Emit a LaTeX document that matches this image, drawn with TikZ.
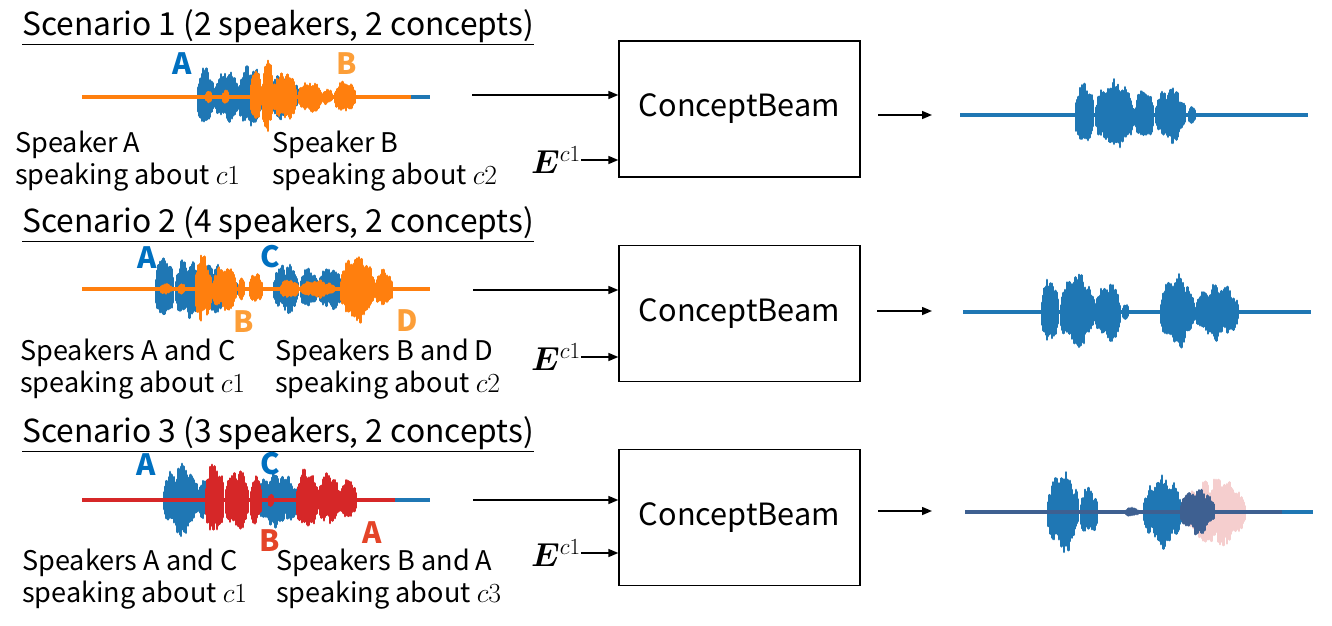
\documentclass[tikz,border=0pt]{standalone}
\usepackage{fontspec}
\usepackage{bm}
\usetikzlibrary{arrows.meta,positioning}
\newfontfamily\uifont{Noto Sans CJK JP}
\definecolor{wblue}{RGB}{31,119,180}
\definecolor{worange}{RGB}{255,127,14}
\definecolor{wred}{RGB}{214,39,40}
\definecolor{wdark}{RGB}{62,96,145}
\definecolor{wpink}{RGB}{245,206,206}
\definecolor{lblue}{RGB}{0,112,192}
\definecolor{lorange}{RGB}{252,158,56}
\definecolor{lred}{RGB}{228,68,40}
\tikzset{
  >={Triangle[length=7.5pt,width=6pt]},
  title/.style={anchor=base west,inner sep=0pt,font=\uifont\fontsize{23.8}{28}\selectfont},
  spk/.style={anchor=north west,inner sep=0pt,align=left,font=\uifont\fontsize{20.3}{24}\selectfont},
  who/.style={text=#1,inner sep=0pt,font=\uifont\bfseries\fontsize{22}{26}\selectfont},
  cbox/.style={draw,line width=1pt,minimum width=180.75pt,minimum height=102pt,
    font=\uifont\fontsize{23}{28}\selectfont},
  emb/.style={anchor=east,inner sep=0pt,font=\fontsize{26}{30}\selectfont},
  feed/.style={->,line width=1.1pt},
  axis/.style={line width=3.2pt,draw=#1},
}
% one burst of a waveform: colour, from, to, middle, height
\newcommand\burst[5]{%
  \pgfmathtruncatemacro\nb{(#3-#2)/1.2}
  \foreach \i in {0,...,\nb}{
    \pgfmathsetmacro\xb{#2+1.2*\i}
    \pgfmathsetmacro\eb{1.12*#5*sqrt(abs(sin(180*\i/\nb)))}
    \pgfmathsetmacro\ub{\eb*(0.4+0.3*abs(sin(17*\i))+0.3*rnd)}
    \pgfmathsetmacro\db{\eb*(0.4+0.3*abs(cos(11*\i))+0.3*rnd)}
    \draw[#1,line width=1.9pt,line cap=round] (\xb,#4-\ub) -- (\xb,#4+\db);
  }}

\begin{document}
\begin{tikzpicture}[x=0.75pt,y=-0.75pt]
  \useasboundingbox (0,0) rectangle (1332,625);
  \pgfmathsetseed{11}
  % scenario 1
  \node[title] (t1) at (22,35) {\underline{Scenario 1 (2 speakers, 2 concepts)}};
  \draw[axis=wblue] (82,97) -- (430,97);
  \burst{wblue}{197}{214}{97}{30} \burst{wblue}{214}{240}{97}{26} \burst{wblue}{238}{262}{97}{32}
  \burst{wblue}{262}{292}{97}{22} \burst{wblue}{288}{300}{97}{12}
  \draw[axis=worange] (82,97) -- (411,97);
  \burst{worange}{205}{213}{97}{5} \burst{worange}{222}{230}{97}{6}
  \burst{worange}{250}{262}{97}{26} \burst{worange}{262}{273}{97}{38} \burst{worange}{272}{298}{97}{24}
  \burst{worange}{298}{322}{97}{16} \burst{worange}{322}{333}{97}{7} \burst{worange}{334}{356}{97}{15}
  \node[who=lblue] (a1) at (182,64) {A};
  \node[who=lorange] (b1) at (347,64) {B};
  \node[spk] (s1a) at (15,131) {Speaker A\\speaking about $c1$};
  \node[spk] (s1b) at (272,131) {Speaker B\\speaking about $c2$};
  \node[cbox] (cb1) at (739.5,109) {ConceptBeam};
  \coordinate (in1) at (472,95);
  \draw[feed] (in1) -- (in1 -| cb1.west);
  \node[emb] (e1) at (581,160) {$\bm{E}^{c1}$};
  \draw[feed] (e1.east) -- (e1.east -| cb1.west);
  \coordinate (o1a) at (878,115); \coordinate (o1b) at (932,115);
  \draw[feed] (o1a) -- (o1b);
  \draw[axis=wblue] (960,115) -- (1308,115);
  \burst{wblue}{1075}{1095}{115}{32} \burst{wblue}{1095}{1135}{115}{34} \burst{wblue}{1135}{1155}{115}{26}
  \burst{wblue}{1155}{1187}{115}{26} \burst{wblue}{1188}{1197}{115}{8}
  % scenario 2
  \node[title] (t2) at (22,232) {\underline{Scenario 2 (4 speakers, 2 concepts)}};
  \burst{wblue}{155}{175}{289}{32} \burst{wblue}{175}{200}{289}{30} \burst{wblue}{200}{228}{289}{24}
  \burst{wblue}{228}{238}{289}{12} \burst{wblue}{273}{300}{289}{24} \burst{wblue}{300}{318}{289}{20}
  \burst{wblue}{318}{343}{289}{22}
  \draw[axis=worange] (82,289) -- (430,289);
  \burst{worange}{160}{172}{289}{5} \burst{worange}{178}{186}{289}{5} \burst{worange}{195}{212}{289}{34}
  \burst{worange}{212}{238}{289}{22} \burst{worange}{238}{246}{289}{10} \burst{worange}{249}{264}{289}{15}
  \burst{worange}{280}{300}{289}{9} \burst{worange}{300}{335}{289}{8} \burst{worange}{340}{375}{289}{32}
  \burst{worange}{375}{393}{289}{18}
  \node[who=lblue] (a2) at (147,258) {A};
  \node[who=lblue] (c2) at (270,257) {C};
  \node[who=lorange] (b2) at (244,322) {B};
  \node[who=lorange] (d2) at (407,321) {D};
  \node[spk] (s2a) at (20,339) {Speakers A and C\\speaking about $c1$};
  \node[spk] (s2b) at (275,339) {Speakers B and D\\speaking about $c2$};
  \node[cbox] (cb2) at (739.5,313.5) {ConceptBeam};
  \coordinate (in2) at (473,290);
  \draw[feed] (in2) -- (in2 -| cb2.west);
  \node[emb] (e2) at (581,357) {$\bm{E}^{c1}$};
  \draw[feed] (e2.east) -- (e2.east -| cb2.west);
  \coordinate (o2a) at (877,311); \coordinate (o2b) at (932,311);
  \draw[feed] (o2a) -- (o2b);
  \draw[axis=wblue] (963,312) -- (1311,312);
  \burst{wblue}{1041}{1060}{312}{32} \burst{wblue}{1060}{1095}{312}{36} \burst{wblue}{1095}{1122}{312}{28}
  \burst{wblue}{1122}{1130}{312}{8} \burst{wblue}{1160}{1195}{312}{34} \burst{wblue}{1195}{1240}{312}{26}
  % scenario 3
  \node[title] (t3) at (22,442) {\underline{Scenario 3 (3 speakers, 2 concepts)}};
  \draw[axis=wblue] (82,500) -- (430,500);
  \burst{wblue}{163}{200}{500}{33} \burst{wblue}{198}{210}{500}{18} \burst{wblue}{255}{300}{500}{26}
  \draw[axis=wred] (82,500) -- (395,500);
  \burst{wred}{205}{225}{500}{36} \burst{wred}{225}{250}{500}{30} \burst{wred}{250}{263}{500}{24}
  \burst{wred}{268}{274}{500}{6} \burst{wred}{296}{318}{500}{30} \burst{wred}{318}{340}{500}{26}
  \burst{wred}{340}{357}{500}{20}
  \node[who=lblue] (a3) at (146,465) {A};
  \node[who=lblue] (c3) at (270,464) {C};
  \node[who=lred] (b3) at (270,541) {B};
  \node[who=lred] (a3b) at (372,533) {A};
  \node[spk] (s3a) at (22,549) {Speakers A and C\\speaking about $c1$};
  \node[spk] (s3b) at (276,549) {Speakers B and A\\speaking about $c3$};
  \node[cbox] (cb3) at (739.5,517.5) {ConceptBeam};
  \coordinate (in3) at (473,500);
  \draw[feed] (in3) -- (in3 -| cb3.west);
  \node[emb] (e3) at (581,553) {$\bm{E}^{c1}$};
  \draw[feed] (e3.east) -- (e3.east -| cb3.west);
  \coordinate (o3a) at (878,511); \coordinate (o3b) at (932,511);
  \draw[feed] (o3a) -- (o3b);
  \burst{wpink}{1185}{1247}{512}{32}
  \burst{wblue}{1047}{1080}{512}{38} \burst{wblue}{1080}{1098}{512}{24} \burst{wblue}{1143}{1183}{512}{33}
  \burst{wdark}{1180}{1215}{512}{22} \burst{wdark}{1125}{1140}{512}{4}
  \draw[axis=wblue] (1280,512) -- (1313,512);
  \draw[axis=wdark] (965,512) -- (1282,512);
\end{tikzpicture}
\end{document}
